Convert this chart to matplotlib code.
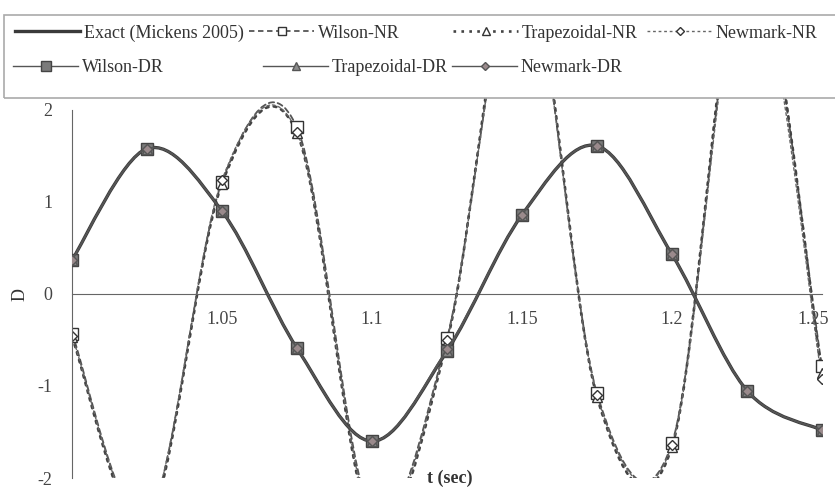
import matplotlib
matplotlib.use('Agg')
import matplotlib.pyplot as plt
import matplotlib.transforms as mtransforms
from matplotlib.path import Path
from matplotlib.patches import PathPatch, Rectangle
from matplotlib.lines import Line2D

plt.rcParams['font.family'] = ['Liberation Serif', 'DejaVu Serif']

# time steps (sec)
t = [1.0, 1.025, 1.05, 1.075, 1.1, 1.125, 1.15, 1.175, 1.2, 1.225, 1.25]

# exact solution and the DR results (they sit on top of each other)
exact = [0.37, 1.58, 0.90, -0.59, -1.60, -0.62, 0.86, 1.61, 0.43, -1.05, -1.48]
wilson_dr = [0.37, 1.58, 0.90, -0.59, -1.60, -0.62, 0.86, 1.61, 0.43, -1.05, -1.48]
trap_dr = [0.37, 1.58, 0.90, -0.59, -1.60, -0.62, 0.86, 1.61, 0.43, -1.05, -1.48]
newmark_dr = [0.37, 1.58, 0.90, -0.59, -1.60, -0.60, 0.86, 1.61, 0.43, -1.05, -1.48]

# NR results, values outside -2..2 are guessed from where the lines leave the plot
wilson_nr = [-0.43, -2.45, 1.22, 1.81, -2.4, -0.48, 3.7, -1.08, -1.62, 3.8, -0.78]
trap_nr = [-0.47, -2.5, 1.20, 1.75, -2.5, -0.52, 3.8, -1.12, -1.66, 3.9, -0.86]
newmark_nr = [-0.46, -2.45, 1.24, 1.76, -2.45, -0.50, 3.7, -1.10, -1.64, 3.7, -0.92]

yticks = [-2, -1, 0, 1, 2]
xticks = [1.05, 1.1, 1.15, 1.2, 1.25]
xticklabels = ['1.05', '1.1', '1.15', '1.2', '1.25']


def smooth_path(x, y):
    # smoothed line like excel: bezier segments through the points
    n = len(x)
    verts = [(x[0], y[0])]
    codes = [Path.MOVETO]
    for i in range(n - 1):
        a = max(i - 1, 0)
        b = min(i + 2, n - 1)
        c1 = (x[i] + (x[i + 1] - x[a]) / 6, y[i] + (y[i + 1] - y[a]) / 6)
        c2 = (x[i + 1] - (x[b] - x[i]) / 6, y[i + 1] - (y[b] - y[i]) / 6)
        verts += [c1, c2, (x[i + 1], y[i + 1])]
        codes += [Path.CURVE4] * 3
    return Path(verts, codes)


fig = plt.figure(figsize=(8.35, 4.94), dpi=100)
ax = fig.add_axes([72 / 835, 16 / 494, 750 / 835, 380 / 494])

series = [
    # name, values, line color, lw, ls, marker, mfc, mec, ms, z
    ('Wilson-NR', wilson_nr, '#555555', 1.3, (0, (3, 2)), 's', 'white', '#333333', 8, 2),
    ('Trapezoidal-NR', trap_nr, '#444444', 1.9, (0, (1, 2)), '^', 'white', '#333333', 7, 2),
    ('Newmark-NR', newmark_nr, '#666666', 1.0, (0, (2, 2)), 'D', 'white', '#333333', 5.5, 2),
    ('Wilson-DR', wilson_dr, '#555555', 1.0, '-', 's', '#7a7a7a', '#444444', 8.5, 4),
    ('Trapezoidal-DR', trap_dr, '#555555', 1.0, '-', '^', '#8c8c8c', '#555555', 6.5, 5),
    ('Newmark-DR', newmark_dr, '#555555', 1.0, '-', 'D', '#9a8a8c', '#555555', 5, 6),
]

handles = {}
ax.add_patch(PathPatch(smooth_path(t, exact), fill=False, ec='#3a3a3a', lw=2.4, zorder=3))
handles['Exact (Mickens 2005)'] = Line2D([], [], color='#3a3a3a', lw=2.4)

for name, vals, col, lw, ls, mk, mfc, mec, ms, z in series:
    ax.add_patch(PathPatch(smooth_path(t, vals), fill=False, ec=col, lw=lw, ls=ls,
                           capstyle='round', zorder=z))
    ax.plot(t, vals, ls='none', marker=mk, mfc=mfc, mec=mec, ms=ms, mew=1, zorder=z + 0.5)
    handles[name] = Line2D([], [], color=col, lw=lw, ls=ls, marker=mk, mfc=mfc, mec=mec,
                           ms=ms * 0.8, mew=1)

ax.set_xlim(1.0, 1.25)
ax.set_ylim(-2, 2.13)

for s in ['top', 'right']:
    ax.spines[s].set_visible(False)
ax.spines['bottom'].set_position(('data', 0))
ax.spines['left'].set_bounds(-2, 2)
ax.spines['bottom'].set_color('#666666')
ax.spines['left'].set_color('#666666')

ax.set_xticks(xticks)
ax.set_xticklabels(xticklabels)
ax.set_yticks(yticks)
ax.set_yticklabels([str(v) for v in yticks])
ax.tick_params(axis='x', length=0, pad=12, labelsize=13, labelcolor='#444444')
ax.tick_params(axis='y', length=0, pad=14, labelsize=13, labelcolor='#444444')
# last label sits at the right edge, nudge it in a little
last = ax.get_xticklabels()[-1]
last.set_transform(last.get_transform() +
                   mtransforms.ScaledTranslation(-9 / 100, 0, fig.dpi_scale_trans))

ax.set_ylabel('D', fontsize=13, color='#333333')
ax.yaxis.set_label_coords(-0.058, 0.484)
ax.text(0.504, 0.0, 't (sec)', transform=ax.transAxes, ha='center', va='center',
        fontsize=13, fontweight='bold', color='#333333')

# legend box with two rows, entries placed like the excel legend
fig.patches.append(Rectangle((4 / 835, 1 - 98 / 494), 840 / 835, 83 / 494,
                             transform=fig.transFigure, fill=False, ec='#aaaaaa', lw=1.2))
legend_pos = [
    ('Exact (Mickens 2005)', 15, 33),
    ('Wilson-NR', 249, 33),
    ('Trapezoidal-NR', 453, 33),
    ('Newmark-NR', 647, 33),
    ('Wilson-DR', 13, 68),
    ('Trapezoidal-DR', 263, 68),
    ('Newmark-DR', 452, 68),
]
for name, px, py in legend_pos:
    fig.legend(handles=[handles[name]], labels=[name], loc='center left',
               bbox_to_anchor=(px / 835, 1 - py / 494), frameon=False, borderpad=0,
               borderaxespad=0, handlelength=3.6, handletextpad=0.2, fontsize=13,
               labelcolor='#333333')

fig.savefig('out.png', dpi=100)
